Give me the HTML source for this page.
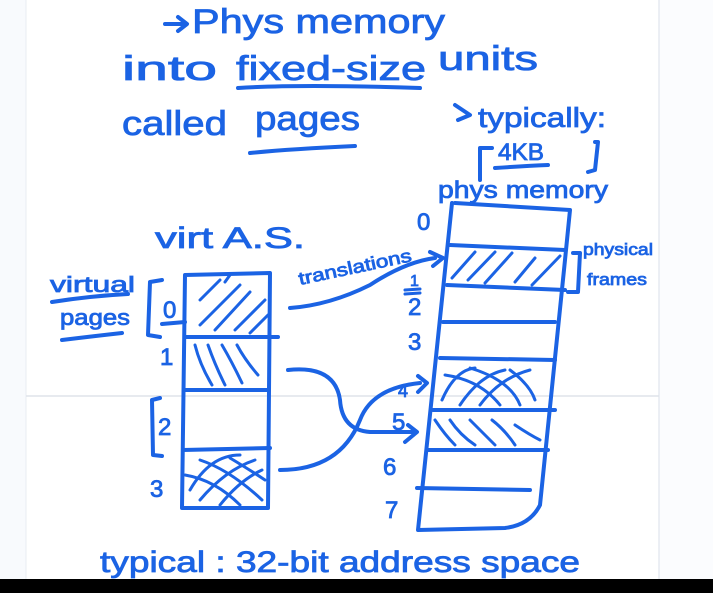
<!DOCTYPE html>
<html><head><meta charset="utf-8"><style>
html,body{margin:0;padding:0;width:713px;height:593px;overflow:hidden;background:#fff}
svg{display:block}
text{font-family:"Liberation Sans",sans-serif;fill:#1b63e4;stroke:#1b63e4;stroke-width:0.8}
</style></head><body>
<svg width="713" height="593" viewBox="0 0 713 593" xmlns="http://www.w3.org/2000/svg">
<rect x="0" y="0" width="26" height="593" fill="#f8fafd"/>
<rect x="659" y="0" width="54" height="593" fill="#fbfcfe"/>
<line x1="26" y1="0" x2="26" y2="593" stroke="#e8ecf2" stroke-width="1"/>
<line x1="659" y1="0" x2="659" y2="593" stroke="#e6eaf0" stroke-width="1.5"/>
<line x1="26" y1="396" x2="659" y2="396" stroke="#dfe3ea" stroke-width="1.5"/>
<rect x="0" y="579" width="713" height="14" fill="#000"/>

<g fill="none" stroke="#1b63e4" stroke-width="4" stroke-linecap="round" stroke-linejoin="round">
<path d="M165 24 L185 24 M178 17 L187 24 L178 31"/>
<path d="M238 88 Q300 84 420 88"/>
<path d="M250 153 Q290 149 355 146"/>
<path d="M455 105 L470 115 L458 120"/>
<path d="M492 148 L480 148 L480 180 M595 142 L598 142 L595 170 L588 172"/>
<path d="M495 168 Q525 166 548 165"/>
<path d="M185 275 L270 273 L268 508 L182 508 Z"/>
<path d="M185 337 L278 337 M184 390 L268 390 M183 450 L270 448"/>
<path stroke-width="3" d="M200 300 L220 280 M200 325 L240 285 M215 330 L250 292 M235 330 L265 300 M250 333 L268 315 M225 282 L230 275"/>
<path stroke-width="3" d="M195 345 Q200 365 212 385 M208 345 Q215 365 225 385 M222 345 Q232 362 242 383 M237 345 Q245 360 258 375"/>
<path stroke-width="3" d="M190 490 Q210 455 240 455 M200 500 Q225 470 255 460 M220 505 Q240 480 262 470 M185 475 Q215 480 240 505 M200 460 Q230 470 262 500 M230 458 Q250 470 265 480"/>
<path d="M162 280 L150 282 L148 335 L160 337"/>
<path d="M160 398 L152 400 L153 455 L162 456"/>
<path d="M52 302 Q90 296 128 294 M62 340 Q95 336 122 333"/>
<path d="M162 324 L185 322"/>
<path d="M455 203 L570 210 L565 260 L540 505 Q530 525 505 528 L418 530 L452 203"/>
<path d="M450 245 L565 250 M447 285 L565 290 M443 322 L555 322 M440 358 L555 360 M433 410 L555 410 M428 450 L548 450 M417 488 L530 490"/>
<path stroke-width="3" d="M452 278 L475 252 M468 280 L495 252 M485 283 L512 253 M515 282 L535 258 M532 285 L560 256"/>
<path stroke-width="3" d="M442 400 Q455 370 475 368 M460 405 Q480 375 505 370 M480 405 Q500 378 530 370 M445 375 Q480 380 500 405 M470 368 Q510 380 520 405 M510 370 Q530 385 535 400"/>
<path stroke-width="3" d="M435 420 Q445 435 455 445 M450 420 Q460 435 475 445 M470 420 Q480 430 495 445 M492 420 Q505 430 515 445 M515 425 Q530 435 540 440"/>
<path d="M573 253 L580 253 L578 292 L568 292"/>
<path d="M290 308 Q330 305 370 285 Q405 262 435 258 M430 252 L443 258 L433 266"/>
<path d="M288 370 Q335 365 340 400 Q342 430 370 432 L413 432 M408 425 L417 432 L405 442"/>
<path d="M280 470 Q340 470 360 420 Q372 388 420 383 M418 376 L427 383 L418 392"/>
<path stroke-width="3" d="M405 290 L420 289 M405 294 L420 293"/>
</g>

<g font-size="34">
<text x="192" y="33" textLength="253" lengthAdjust="spacingAndGlyphs">Phys memory</text>
<text x="122" y="80" textLength="95" lengthAdjust="spacingAndGlyphs">into</text>
<text x="236" y="80" textLength="190" lengthAdjust="spacingAndGlyphs">fixed-size</text>
<text x="438" y="70" textLength="100" lengthAdjust="spacingAndGlyphs">units</text>
<text x="122" y="135" textLength="105" lengthAdjust="spacingAndGlyphs">called</text>
<text x="255" y="130" textLength="105" lengthAdjust="spacingAndGlyphs">pages</text>
</g>
<text x="478" y="127" font-size="28" textLength="128" lengthAdjust="spacingAndGlyphs">typically:</text>
<text x="498" y="160" font-size="24" textLength="46" lengthAdjust="spacingAndGlyphs">4KB</text>
<text x="438" y="198" font-size="24" textLength="170" lengthAdjust="spacingAndGlyphs">phys memory</text>
<text x="155" y="248" font-size="30" textLength="150" lengthAdjust="spacingAndGlyphs">virt A.S.</text>
<text x="50" y="292" font-size="22" textLength="85" lengthAdjust="spacingAndGlyphs">virtual</text>
<text x="60" y="325" font-size="22" textLength="70" lengthAdjust="spacingAndGlyphs">pages</text>
<text x="300" y="285" font-size="18" textLength="115" lengthAdjust="spacingAndGlyphs" transform="rotate(-12 300 285)">translations</text>
<text x="583" y="255" font-size="17" textLength="70" lengthAdjust="spacingAndGlyphs">physical</text>
<text x="587" y="285" font-size="17" textLength="60" lengthAdjust="spacingAndGlyphs">frames</text>
<g font-size="24">
<text x="163" y="318">0</text><text x="160" y="365">1</text><text x="158" y="435">2</text><text x="150" y="497">3</text>
<text x="417" y="230">0</text><text x="408" y="315">2</text><text x="408" y="350">3</text>
<text x="398" y="397" font-size="18">4</text><text x="392" y="430">5</text><text x="383" y="475">6</text><text x="385" y="518">7</text>
</g>
<text x="410" y="286" font-size="16">1</text>
<text x="100" y="572" font-size="30" textLength="480" lengthAdjust="spacingAndGlyphs">typical : 32-bit address space</text>
</svg>
</body></html>
